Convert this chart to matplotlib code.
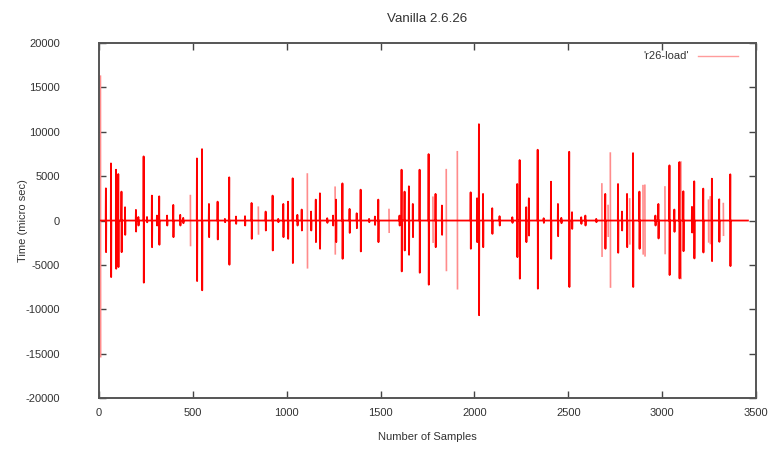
#!/usr/bin/env python3
"""
Vanilla 2.6.26 latency trace (r26-load), gnuplot-style spikes.
"""

import matplotlib
matplotlib.use('Agg')
import matplotlib.pyplot as plt
from matplotlib.lines import Line2D
from matplotlib.ticker import MultipleLocator

# spike positions (sample index) and the up / down swing at each one
SPIKE_SAMPLE = [
    8, 37, 64, 91, 103, 120, 139, 197, 210, 238, 256, 282, 309, 321, 363,
    396, 433, 449, 487, 522, 549, 586, 632, 671, 694, 730, 778, 813, 849,
    888, 925, 955, 982, 1007, 1032, 1057, 1080, 1110, 1130, 1155, 1177,
    1216, 1247, 1258, 1263, 1297, 1335, 1373, 1394, 1439, 1470, 1488, 1545,
    1601, 1612, 1628, 1651, 1672, 1708, 1756, 1779, 1793, 1827, 1850, 1909,
    1980, 2014, 2024, 2046, 2095, 2134, 2202, 2228, 2241, 2276, 2290, 2337,
    2369, 2408, 2445, 2463, 2505, 2520, 2569, 2591, 2649, 2679, 2697, 2712,
    2724, 2765, 2786, 2813, 2827, 2845, 2879, 2898, 2908, 2964, 2980, 3015,
    3039, 3065, 3092, 3100, 3113, 3159, 3171, 3219, 3247, 3256, 3265, 3304,
    3326, 3363,
]
SPIKE_HIGH = [
    16270, 3630, 6440, 5730, 5240, 3260, 1500, 1200, 400, 7230, 400, 2810,
    560, 2730, 560, 1760, 640, 300, 2810, 7000, 8050, 1870, 2130, 190, 4870,
    450, 490, 1980, 1500, 1010, 2810, 190, 1870, 2130, 4760, 640, 1240, 5240,
    1010, 2360, 3070, 260, 560, 3750, 2360, 4190, 1310, 820, 3480, 190, 450,
    2360, 1240, 560, 5730, 3260, 3860, 1870, 5730, 7490, 2620, 3000, 1690,
    5730, 7750, 3180, 2510, 10860, 3000, 1390, 490, 370, 4120, 6820, 1500,
    2510, 7980, 260, 4380, 1870, 300, 7750, 940, 370, 560, 190, 4120, 3000,
    1690, 7600, 4120, 1010, 3000, 2430, 7600, 3260, 3930, 3970, 560, 1870,
    3780, 6220, 1240, 6590, 6590, 3300, 1540, 4420, 3600, 2290, 2660, 4720,
    2400, 1910, 5210,
]
SPIKE_LOW = [
    -15340, -3560, -6370, -5430, -5240, -3560, -1610, -1240, -560, -7000,
    -200, -3000, -560, -2730, -560, -1870, -560, -300, -2810, -6820, -7860,
    -1870, -2130, -190, -4980, -370, -560, -2060, -1500, -1120, -3370, -190,
    -1870, -2060, -4790, -560, -1120, -5320, -1120, -2430, -3180, -260, -560,
    -3750, -2430, -4310, -1390, -860, -3480, -190, -490, -2430, -1310, -560,
    -5730, -3370, -3860, -1870, -5880, -7230, -2430, -3000, -1610, -5620,
    -7680, -3180, -2430, -10670, -3000, -1500, -560, -260, -4120, -6550,
    -2430, -1690, -7680, -260, -4310, -1760, -300, -7490, -940, -370, -560,
    -190, -4010, -3180, -1760, -7490, -3630, -1120, -3000, -2620, -7490,
    -3180, -3750, -3970, -560, -2020, -3710, -6140, -1270, -6520, -6520,
    -3450, -1350, -4270, -3600, -2400, -2580, -4570, -2400, -1650, -5130,
]
LAST_SAMPLE = 3457

# spikes that come out faint (thin, anti-aliased) in the original picture
FAINT_SAMPLES = [
    8, 487, 849, 1110, 1258, 1545, 1779, 1850, 1909, 2679, 2712, 2724,
    2827, 2898, 2908, 3015, 3100, 3247, 3256, 3326,
]

TITLE = 'Vanilla 2.6.26'
SERIES_NAME = "'r26-load'"
X_LABEL = 'Number of Samples'
Y_LABEL = 'Time (micro sec)'

TEXT_COLOR = '#333333'
LINE_COLOR = '#ff0000'
FAINT_COLOR = '#ff8c8c'


def build_trace(skip):
    """把尖峰列表展开成一条折线 (基线为0)"""
    xs, ys = [0], [0]
    for s, hi, lo in zip(SPIKE_SAMPLE, SPIKE_HIGH, SPIKE_LOW):
        if s in skip:
            continue
        xs += [s - 1, s, s + 1, s + 2]
        ys += [0, hi, lo, 0]
    xs.append(LAST_SAMPLE)
    ys.append(0)
    return xs, ys


def main():
    plt.rcParams['font.family'] = ['Liberation Sans', 'DejaVu Sans']
    plt.rcParams['font.size'] = 8
    plt.rcParams['axes.unicode_minus'] = False

    fig = plt.figure(figsize=(7.73, 4.49), dpi=100)
    ax = fig.add_axes([0.128, 0.1136, 0.85, 0.7904])

    # 淡色尖峰先画, 主折线压在上面
    for s, hi, lo in zip(SPIKE_SAMPLE, SPIKE_HIGH, SPIKE_LOW):
        if s in FAINT_SAMPLES:
            ax.plot([s, s + 1], [hi, lo], color=FAINT_COLOR, linewidth=1.2)

    xs, ys = build_trace(set(FAINT_SAMPLES))
    ax.plot(xs, ys, color=LINE_COLOR, linewidth=1.3)

    ax.set_xlim(0, 3500)
    ax.set_ylim(-20000, 20000)
    ax.xaxis.set_major_locator(MultipleLocator(500))
    ax.yaxis.set_major_locator(MultipleLocator(5000))

    ax.tick_params(direction='in', top=True, right=True, length=5,
                   width=1.0, color='#444444', labelcolor=TEXT_COLOR)
    ax.tick_params(axis='y', pad=28)
    ax.tick_params(axis='x', pad=7)
    for sp in ax.spines.values():
        sp.set_color('#555555')
        sp.set_linewidth(1.4)

    ax.set_title(TITLE, color=TEXT_COLOR, pad=15)
    ax.set_xlabel(X_LABEL, color=TEXT_COLOR, labelpad=10)
    ax.set_ylabel(Y_LABEL, color=TEXT_COLOR, labelpad=-1.5)

    handle = Line2D([], [], color='#ff9c9c', linewidth=1.0)
    ax.legend([handle], [SERIES_NAME], loc='upper right',
              bbox_to_anchor=(0.979, 0.989), frameon=False,
              markerfirst=False, handlelength=3.6, handletextpad=0.8,
              borderaxespad=0, labelcolor=TEXT_COLOR)

    fig.savefig('out.png', dpi=100)
    plt.close(fig)


if __name__ == "__main__":
    main()
